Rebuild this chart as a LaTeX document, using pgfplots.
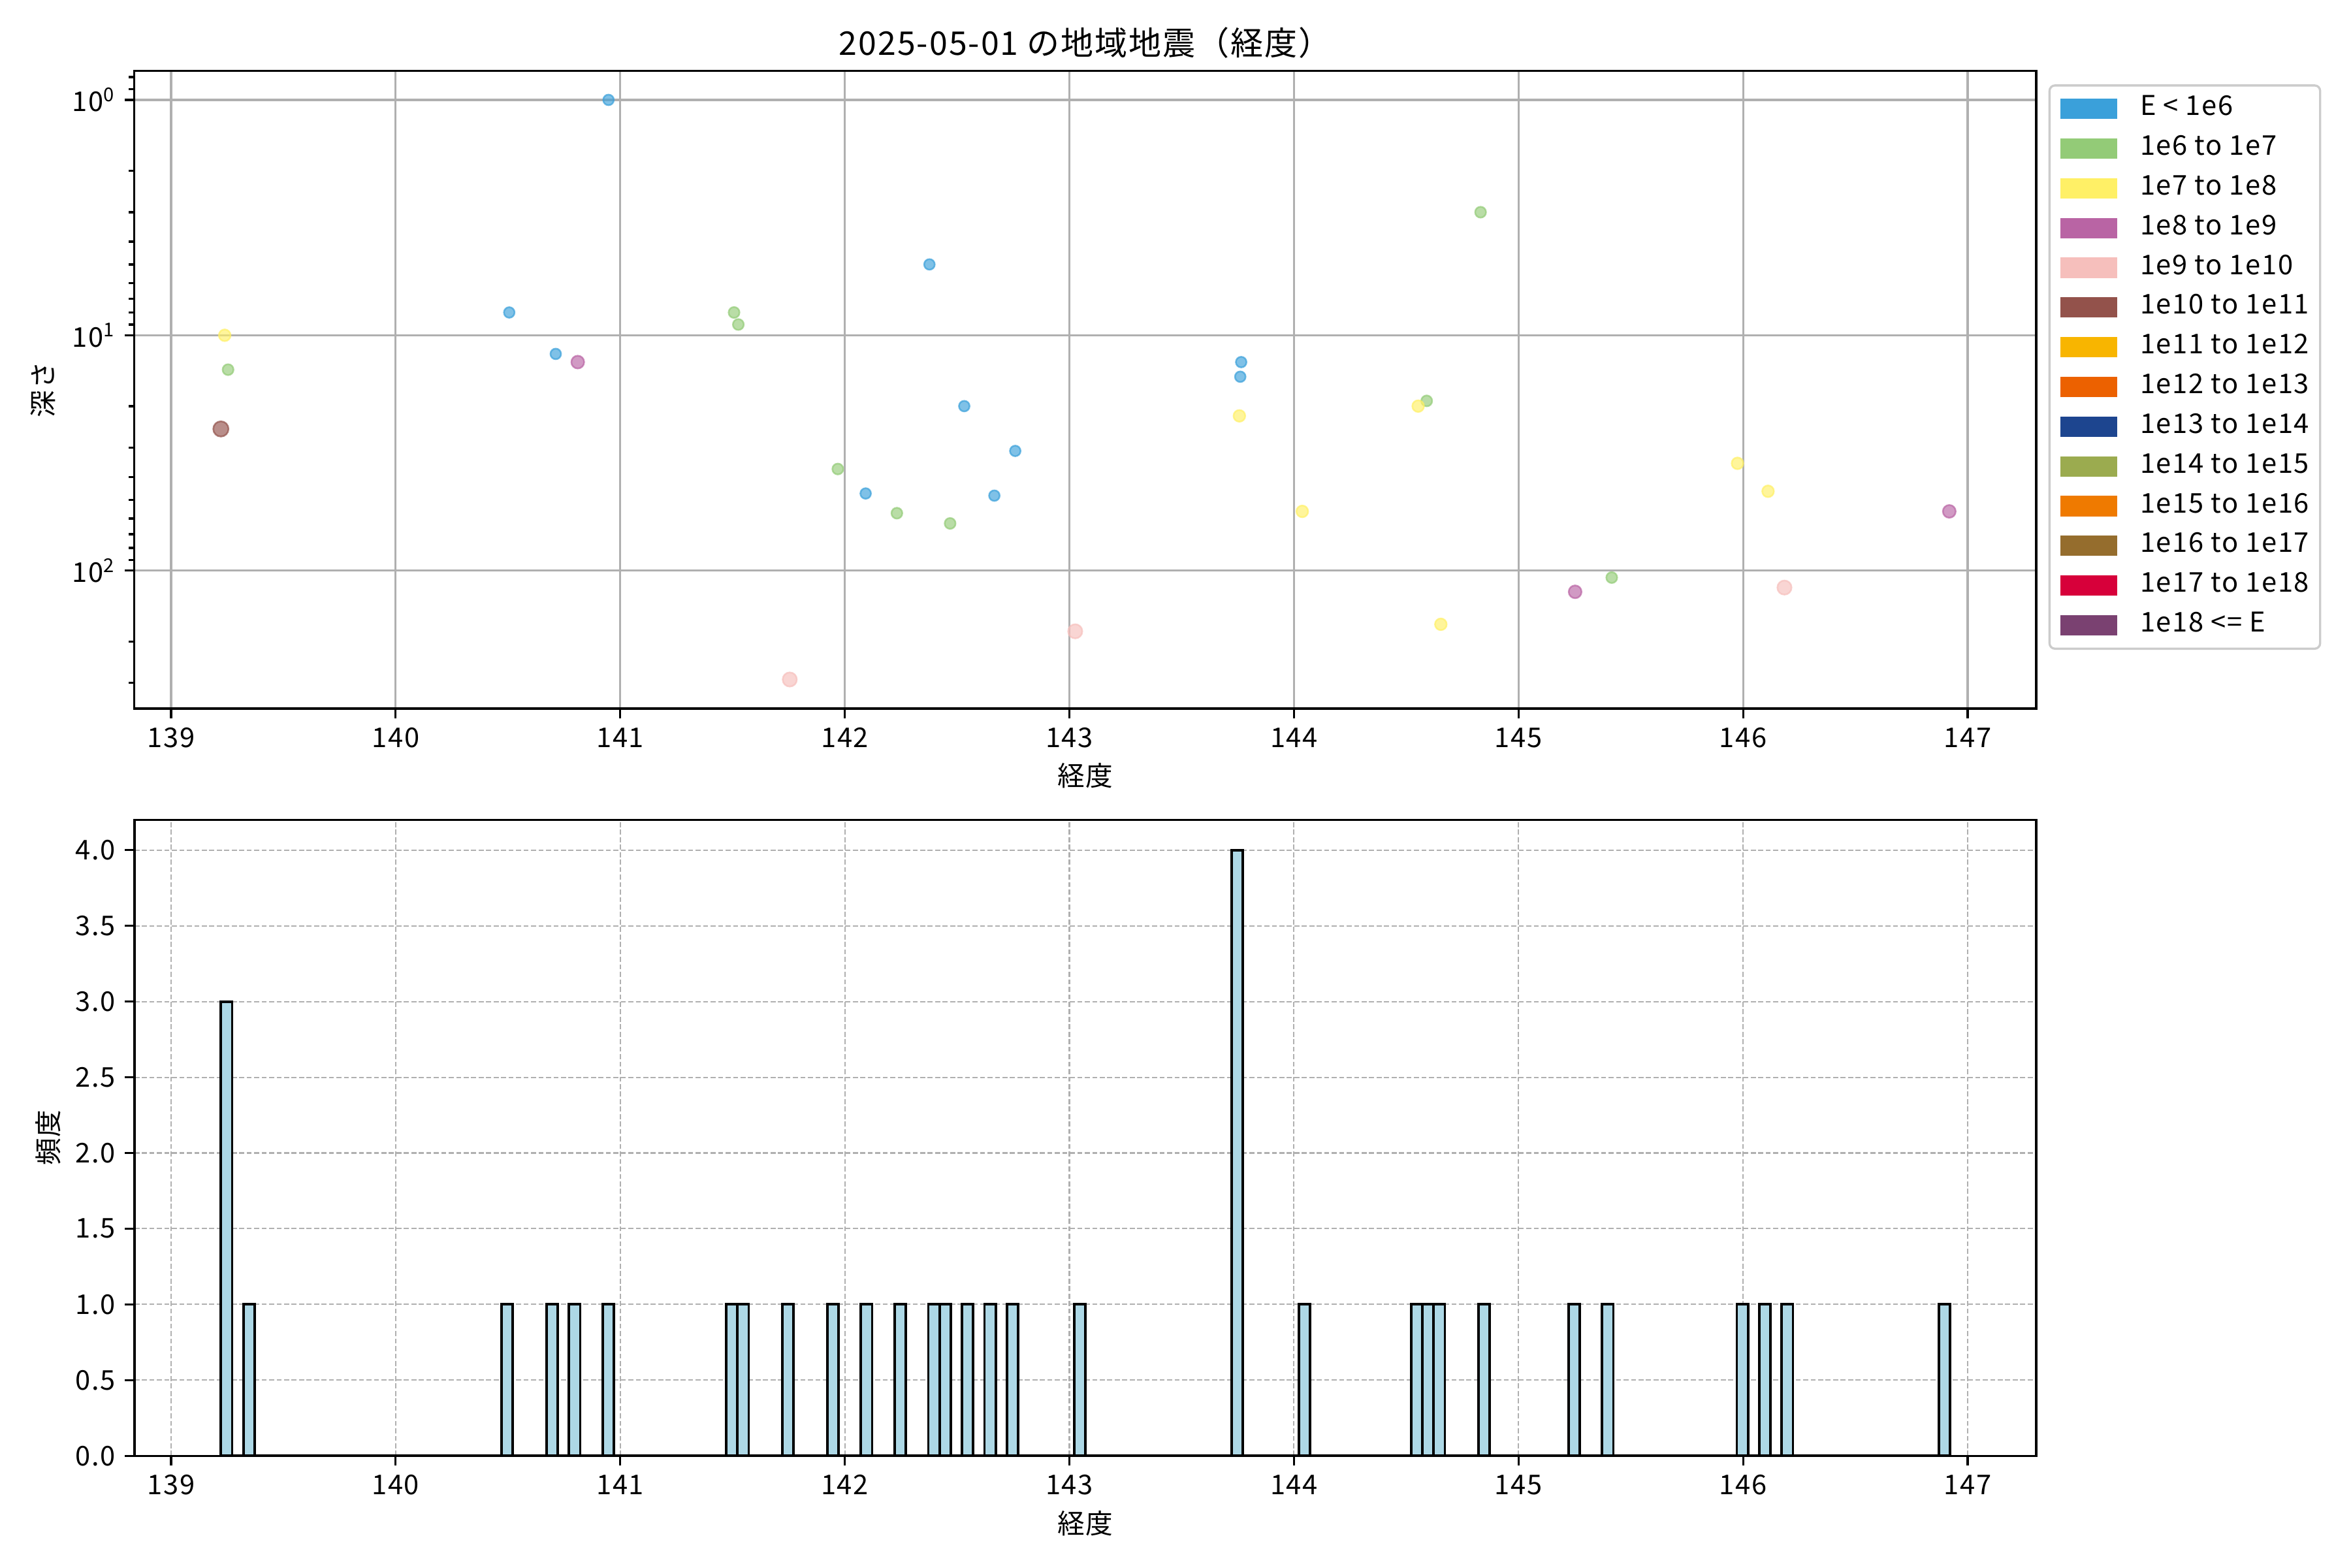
\documentclass[border=0pt]{standalone}
\usepackage{fontspec}
\setmainfont{Noto Sans CJK JP}[LetterSpace=4]
\usepackage{pgfplots}
\pgfplotsset{compat=1.18}

\definecolor{c1}{HTML}{3AA0DA}
\definecolor{c2}{HTML}{93CB77}
\definecolor{c3}{HTML}{FFF066}
\definecolor{c4}{HTML}{B964A4}
\definecolor{c5}{HTML}{F6BFBC}
\definecolor{c6}{HTML}{93524B}
\definecolor{c7}{HTML}{F8B500}
\definecolor{c8}{HTML}{EC6100}
\definecolor{c9}{HTML}{1D458F}
\definecolor{c10}{HTML}{9BAB4F}
\definecolor{c11}{HTML}{EF7A00}
\definecolor{c12}{HTML}{956D2D}
\definecolor{c13}{HTML}{D7003A}
\definecolor{c14}{HTML}{7A4171}
\definecolor{histblue}{HTML}{ADD8E6}
\definecolor{gridgray}{HTML}{B0B0B0}

\pgfplotsset{
  common/.style={
    scale only axis,
    width=698.9pt,
    anchor=south west,
    xmin=138.837, xmax=147.305,
    xtick={139,140,141,142,143,144,145,146,147},
    tick align=outside,
    tick pos=left,
    major tick length=3.5pt,
    minor tick length=2pt,
    tick style={black, line width=0.8pt},
    axis line style={line width=0.8pt},
    /pgf/number format/assume math mode=true,
    ticklabel style={font=\fontsize{10}{12}\selectfont},
    label style={font=\fontsize{10}{12}\selectfont},
  },
  ptstyle/.style={only marks, mark=*, forget plot,
    mark options={fill=#1, draw=#1, fill opacity=0.65, draw opacity=0.7, line width=0.6pt}},
}

\begin{document}
\begin{tikzpicture}
\useasboundingbox (0,0) rectangle (864pt,576pt);

% ---------- top: scatter ----------
\begin{axis}[common,
  at={(49.4pt,315.6pt)},
  height=234.4pt,
  ymode=log, y dir=reverse,
  ymin=0.752, ymax=385.5,
  ytick={1,10,100},
  yticklabels={10\textsuperscript{0},10\textsuperscript{1},10\textsuperscript{2}},
  minor ytick={0.8,0.9,2,3,4,5,6,7,8,9,20,30,40,50,60,70,80,90,200,300},
  grid=major,
  major grid style={color=gridgray, line width=0.8pt},
  title={2025-05-01 の地域地震（経度）},
  every axis title shift=0pt,
  title style={at={(axis description cs:0.5,1)}, anchor=center, yshift=10.4pt, font=\fontsize{12}{14}\selectfont},
  xlabel={経度},
  ylabel={深さ},
  every axis x label/.style={at={(axis description cs:0.5,-0.1054)}, anchor=center},
  every axis y label/.style={at={(axis description cs:-0.0481,0.5)}, rotate=90, anchor=center},
  legend image code/.code={\fill[#1, sharp corners] (0pt,-3.75pt) rectangle (20.9pt,3.75pt);},
  legend cell align=left,
  legend style={at={(1,1)}, anchor=north west, xshift=4.5pt, yshift=-5pt,
    draw=black!20, line width=0.8pt, rounded corners=2pt, fill=white,
    inner xsep=4pt, inner ysep=3.8pt, row sep=5pt, column sep=8.4pt,
    nodes={inner sep=0pt, text height=7.2pt, text depth=2.4pt},
    font=\fontsize{10}{12}\selectfont},
]
% E < 1e6
\addplot[ptstyle=c1, mark size=1.95pt] coordinates {
 (140.948,1.0) (140.506,8.0) (140.713,12.0) (142.377,5.0) (142.532,20.0)
 (142.093,47) (142.666,48) (142.759,31) (143.765,13) (143.761,15)};
% 1e6 to 1e7
\addplot[ptstyle=c2, mark size=2.0pt] coordinates {
 (139.254,14.0) (141.507,8.0) (141.526,9.0) (141.969,37) (142.232,57)
 (142.469,63) (144.591,19) (144.831,3.0) (145.415,107)};
% 1e7 to 1e8
\addplot[ptstyle=c3, mark size=2.15pt] coordinates {
 (139.239,10.0) (143.757,22) (144.037,56) (144.553,20) (144.654,169)
 (145.975,35) (146.111,46)};
% 1e8 to 1e9
\addplot[ptstyle=c4, mark size=2.35pt] coordinates {
 (140.811,13) (145.252,123) (146.918,56)};
% 1e9 to 1e10
\addplot[ptstyle=c5, mark size=2.6pt] coordinates {
 (141.755,290) (143.026,181) (146.184,118)};
% 1e10 to 1e11
\addplot[ptstyle=c6, mark size=2.8pt] coordinates {
 (139.222,25)};

\addlegendimage{fill=c1, draw=none}\addlegendentry{E < 1e6}
\addlegendimage{fill=c2, draw=none}\addlegendentry{1e6 to 1e7}
\addlegendimage{fill=c3, draw=none}\addlegendentry{1e7 to 1e8}
\addlegendimage{fill=c4, draw=none}\addlegendentry{1e8 to 1e9}
\addlegendimage{fill=c5, draw=none}\addlegendentry{1e9 to 1e10}
\addlegendimage{fill=c6, draw=none}\addlegendentry{1e10 to 1e11}
\addlegendimage{fill=c7, draw=none}\addlegendentry{1e11 to 1e12}
\addlegendimage{fill=c8, draw=none}\addlegendentry{1e12 to 1e13}
\addlegendimage{fill=c9, draw=none}\addlegendentry{1e13 to 1e14}
\addlegendimage{fill=c10, draw=none}\addlegendentry{1e14 to 1e15}
\addlegendimage{fill=c11, draw=none}\addlegendentry{1e15 to 1e16}
\addlegendimage{fill=c12, draw=none}\addlegendentry{1e16 to 1e17}
\addlegendimage{fill=c13, draw=none}\addlegendentry{1e17 to 1e18}
\addlegendimage{fill=c14, draw=none}\addlegendentry{1e18 <= E}
\end{axis}

% ---------- bottom: histogram ----------
\begin{axis}[common,
  at={(49.4pt,41.0pt)},
  height=233.7pt,
  ymin=0, ymax=4.2,
  ytick={0,0.5,1,1.5,2,2.5,3,3.5,4},
  yticklabel style={/pgf/number format/.cd, fixed, fixed zerofill, precision=1},
  grid=major,
  major grid style={color=gridgray, line width=0.5pt, dash pattern=on 1.85pt off 0.9pt},
  xlabel={経度},
  ylabel={頻度},
  every axis x label/.style={at={(axis description cs:0.5,-0.1065)}, anchor=center},
  every axis y label/.style={at={(axis description cs:-0.0455,0.5)}, rotate=90, anchor=center},
]
\addplot[ybar, bar width=0.05, fill=histblue, draw=black, line width=0.9pt] coordinates {
 (139.247,3) (139.347,1) (140.497,1) (140.697,1) (140.797,1) (140.947,1)
 (141.497,1) (141.547,1) (141.747,1) (141.947,1) (142.097,1) (142.247,1)
 (142.397,1) (142.447,1) (142.547,1) (142.647,1) (142.747,1) (143.047,1)
 (143.747,4) (144.047,1) (144.547,1) (144.597,1) (144.647,1) (144.847,1)
 (145.247,1) (145.397,1) (145.997,1) (146.097,1) (146.197,1) (146.897,1)};
% edges of the empty bins along zero
\addplot[black, line width=0.9pt, forget plot] coordinates {(139.222,0) (146.922,0)};
\end{axis}
\end{tikzpicture}
\end{document}
